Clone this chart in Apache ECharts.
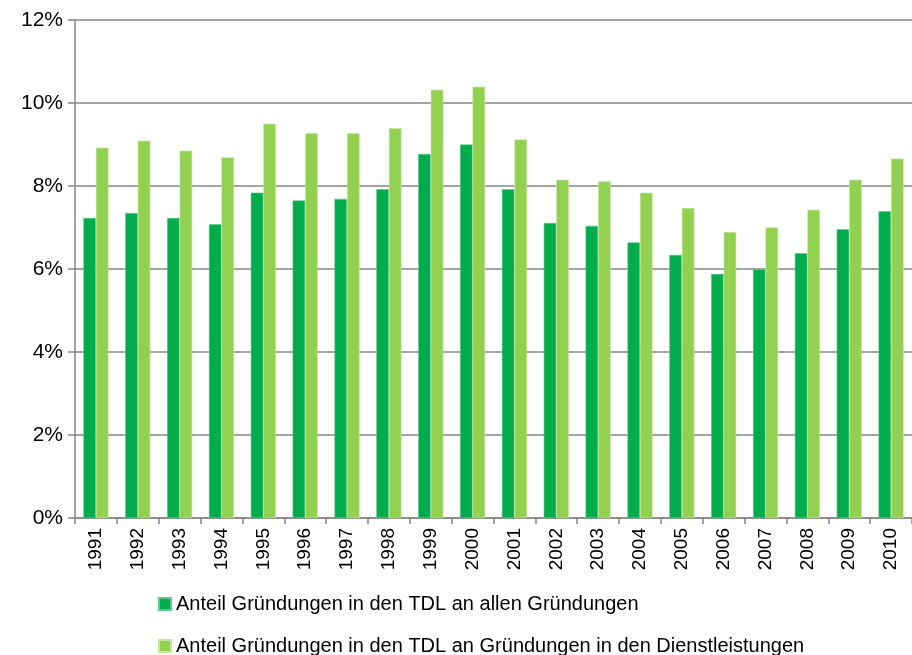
<!DOCTYPE html>
<html>
<head>
<meta charset="utf-8">
<script src="https://cdn.jsdelivr.net/npm/echarts@6/dist/echarts.min.js"></script>
<style>
  html, body { margin: 0; padding: 0; background: #fff; }
  #chart { width: 912px; height: 655px; }
</style>
</head>
<body>
<div id="chart"></div>
<script>
// Jahre
const years = ['1991', '1992', '1993', '1994', '1995', '1996', '1997', '1998', '1999', '2000',
  '2001', '2002', '2003', '2004', '2005', '2006', '2007', '2008', '2009', '2010']
// Anteil an allen Gründungen (%)
const shareAll = [7.23, 7.35, 7.23, 7.08, 7.84, 7.65, 7.69, 7.92, 8.77, 9.00,
  7.92, 7.11, 7.04, 6.64, 6.34, 5.88, 5.99, 6.38, 6.96, 7.39]
// Anteil an Gründungen in den Dienstleistungen (%)
const shareServices = [8.92, 9.09, 8.85, 8.69, 9.50, 9.27, 9.27, 9.39, 10.32, 10.39,
  9.12, 8.15, 8.11, 7.84, 7.47, 6.89, 7.00, 7.43, 8.15, 8.66]
const seriesNames = [
  'Anteil Gründungen in den TDL an allen Gründungen',
  'Anteil Gründungen in den TDL an Gründungen in den Dienstleistungen'
]

const chart = echarts.init(document.getElementById('chart'))
const font = 'Liberation Sans, Arial, sans-serif'
const gray = '#868686'

// zwei Legenden untereinander
const legendRow = (name, top) => ({
  left: 158,
  top: top,
  padding: 0,
  itemWidth: 12,
  itemHeight: 12,
  itemGap: 0,
  icon: 'rect',
  textStyle: { color: '#000', fontSize: 20, fontFamily: font },
  data: [name]
})

chart.setOption({
  animation: false,
  textStyle: { fontFamily: font },
  grid: {
    left: 75,
    right: -7,
    top: 20,
    bottom: 137
  },
  legend: [
    legendRow(seriesNames[0], 594),
    legendRow(seriesNames[1], 636)
  ],
  xAxis: {
    type: 'category',
    data: years,
    axisLine: { lineStyle: { color: gray, width: 1.5 } },
    axisTick: { show: true, length: 6, lineStyle: { color: gray, width: 1.5 } },
    axisLabel: {
      rotate: 90,
      color: '#000',
      fontSize: 19,
      margin: 10,
      interval: 0
    }
  },
  yAxis: {
    type: 'value',
    min: 0,
    max: 12,
    interval: 2,
    axisLine: { show: true, lineStyle: { color: gray, width: 1.5 } },
    axisTick: { show: true, length: 7, lineStyle: { color: gray, width: 1.5 } },
    axisLabel: {
      color: '#000',
      fontSize: 21,
      margin: 12,
      formatter: v => v + '%'
    },
    splitLine: { lineStyle: { color: gray, width: 1.5 } }
  },
  series: [
    {
      name: seriesNames[0],
      type: 'bar',
      data: shareAll,
      barGap: '0%',
      barCategoryGap: '40%',
      itemStyle: { color: '#00AC4C', borderColor: '#5cc98a', borderWidth: 0.6 }
    },
    {
      name: seriesNames[1],
      type: 'bar',
      data: shareServices,
      itemStyle: { color: '#92D050', borderColor: '#c4e6a0', borderWidth: 0.6 }
    }
  ]
})
</script>
</body>
</html>
